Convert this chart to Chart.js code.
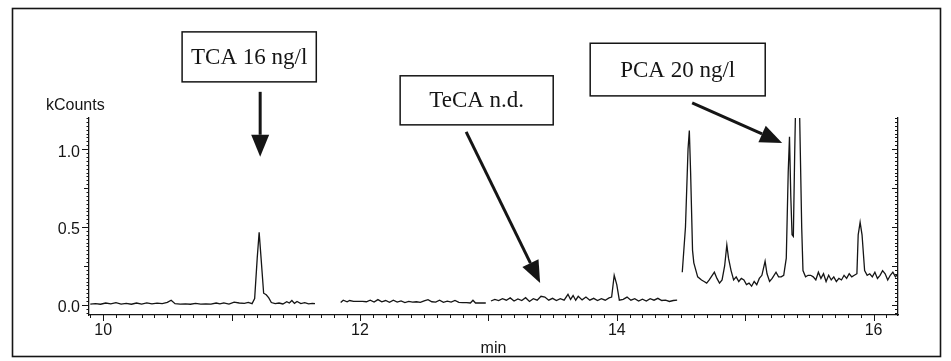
<!DOCTYPE html>
<html lang="en">
<head>
    <meta charset="UTF-8">
    <title>Chromatogram - TCA / TeCA / PCA</title>
    <style>
        html, body { margin: 0; padding: 0; background: #fff; }
        #wrap { position: relative; width: 951px; height: 361px; }
    </style>
</head>
<body>
    <div id="wrap">
        <canvas id="chrom" width="951" height="361"></canvas>
    </div>

    <script src="https://cdn.jsdelivr.net/npm/chart.js"></script>
    <script>
        // retention time (min) and signal (kCounts), one pair of arrays per trace segment
        const times1 = [9.90, 9.94, 9.98, 10.02, 10.06, 10.10, 10.14, 10.18, 10.22, 10.26, 10.30, 10.34, 10.38, 10.42, 10.46, 10.50, 10.53, 10.56, 10.60, 10.64, 10.68, 10.72, 10.76, 10.80, 10.84, 10.88, 10.91, 10.94, 10.98, 11.02, 11.06, 11.10, 11.13, 11.16, 11.18, 11.20, 11.215, 11.23, 11.25, 11.27, 11.29, 11.31, 11.34, 11.37, 11.40, 11.43, 11.45, 11.47, 11.49, 11.51, 11.54, 11.57, 11.60, 11.63, 11.65];
        const counts1 = [0.005, 0.008, 0.004, 0.012, 0.006, 0.014, 0.005, 0.010, 0.004, 0.012, 0.005, 0.013, 0.006, 0.011, 0.008, 0.016, 0.030, 0.008, 0.005, 0.006, 0.004, 0.010, 0.005, 0.006, 0.005, 0.012, 0.006, 0.013, 0.005, 0.018, 0.012, 0.010, 0.016, 0.008, 0.040, 0.300, 0.466, 0.300, 0.075, 0.065, 0.045, 0.015, 0.008, 0.012, 0.006, 0.020, 0.012, 0.028, 0.010, 0.022, 0.008, 0.014, 0.006, 0.010, 0.008];

        const times2 = [11.85, 11.87, 11.90, 11.92, 11.95, 11.98, 12.02, 12.05, 12.08, 12.11, 12.14, 12.17, 12.20, 12.23, 12.26, 12.29, 12.32, 12.35, 12.38, 12.41, 12.44, 12.47, 12.50, 12.53, 12.56, 12.59, 12.62, 12.65, 12.68, 12.71, 12.74, 12.77, 12.80, 12.83, 12.86, 12.88, 12.90, 12.93, 12.96, 12.98];
        const counts2 = [0.015, 0.030, 0.020, 0.028, 0.022, 0.022, 0.022, 0.020, 0.030, 0.018, 0.034, 0.020, 0.028, 0.016, 0.030, 0.018, 0.026, 0.015, 0.022, 0.018, 0.020, 0.016, 0.026, 0.034, 0.020, 0.018, 0.030, 0.016, 0.024, 0.018, 0.028, 0.016, 0.014, 0.015, 0.012, 0.030, 0.012, 0.012, 0.012, 0.012];

        const times3 = [13.02, 13.05, 13.08, 13.11, 13.14, 13.17, 13.20, 13.23, 13.26, 13.29, 13.32, 13.35, 13.38, 13.41, 13.44, 13.47, 13.50, 13.53, 13.56, 13.59, 13.62, 13.64, 13.66, 13.68, 13.70, 13.73, 13.76, 13.79, 13.82, 13.85, 13.88, 13.91, 13.94, 13.96, 13.98, 14.00, 14.02, 14.05, 14.08, 14.11, 14.14, 14.17, 14.20, 14.23, 14.26, 14.29, 14.32, 14.35, 14.38, 14.41, 14.44, 14.47];
        const counts3 = [0.025, 0.035, 0.028, 0.040, 0.030, 0.045, 0.025, 0.038, 0.028, 0.046, 0.022, 0.040, 0.030, 0.055, 0.050, 0.030, 0.042, 0.028, 0.040, 0.030, 0.068, 0.035, 0.060, 0.030, 0.055, 0.032, 0.050, 0.030, 0.042, 0.028, 0.040, 0.030, 0.045, 0.050, 0.190, 0.130, 0.030, 0.035, 0.050, 0.030, 0.040, 0.025, 0.036, 0.025, 0.040, 0.030, 0.042, 0.028, 0.030, 0.022, 0.028, 0.030];

        const times4 = [14.51, 14.535, 14.555, 14.565, 14.575, 14.59, 14.60, 14.63, 14.66, 14.68, 14.70, 14.72, 14.76, 14.78, 14.80, 14.82, 14.84, 14.857, 14.87, 14.89, 14.91, 14.93, 14.95, 14.97, 14.99, 15.01, 15.03, 15.05, 15.07, 15.09, 15.11, 15.13, 15.155, 15.17, 15.19, 15.21, 15.24, 15.26, 15.28, 15.30, 15.32, 15.335, 15.345, 15.355, 15.365, 15.375, 15.385, 15.40, 15.42, 15.44, 15.45, 15.47, 15.49, 15.51, 15.53, 15.55, 15.57, 15.59, 15.61, 15.63, 15.65, 15.67, 15.69, 15.71, 15.73, 15.75, 15.77, 15.79, 15.81, 15.83, 15.85, 15.87, 15.88, 15.895, 15.91, 15.93, 15.95, 15.97, 15.99, 16.01, 16.03, 16.05, 16.07, 16.09, 16.11, 16.13, 16.15, 16.17, 16.19];
        const counts4 = [0.21, 0.50, 1.00, 1.12, 0.85, 0.35, 0.27, 0.18, 0.16, 0.15, 0.14, 0.16, 0.21, 0.17, 0.14, 0.16, 0.25, 0.385, 0.30, 0.22, 0.16, 0.18, 0.15, 0.17, 0.16, 0.13, 0.14, 0.12, 0.15, 0.13, 0.17, 0.19, 0.28, 0.20, 0.15, 0.17, 0.21, 0.18, 0.18, 0.19, 0.30, 0.85, 1.08, 0.70, 0.45, 0.44, 0.95, 1.60, 1.40, 0.50, 0.22, 0.18, 0.19, 0.19, 0.18, 0.16, 0.21, 0.17, 0.20, 0.15, 0.19, 0.16, 0.18, 0.15, 0.17, 0.16, 0.19, 0.17, 0.20, 0.18, 0.19, 0.20, 0.45, 0.53, 0.45, 0.22, 0.19, 0.20, 0.18, 0.21, 0.17, 0.19, 0.22, 0.20, 0.16, 0.19, 0.21, 0.18, 0.20];

        const xTickLabels = [10, 12, 14, 16];
        const yTickLabels = [0.0, 0.5, 1.0];

        // callout boxes and arrows, in axis units (min, kCounts)
        const callouts = [
            { text: 'TCA 16 ng/l', box: [10.615, 1.753, 11.66, 1.432], from: [11.223, 1.368], to: [11.223, 0.951] },
            { text: 'TeCA n.d.', box: [12.313, 1.471, 13.505, 1.156], from: [12.827, 1.111], to: [13.403, 0.141] },
            { text: 'PCA 20 ng/l', box: [13.793, 1.680, 15.156, 1.342], from: [14.587, 1.297], to: [15.288, 1.040] }
        ];

        const ink = '#151515';

        const pairUp = (ts, cs) => ts.map((t, i) => ({ x: t, y: cs[i] }));
        const trace = (ts, cs) => ({
            data: pairUp(ts, cs),
            borderColor: ink,
            borderWidth: 1.3,
            pointRadius: 0,
            tension: 0,
            yAxisID: 'y'
        });

        // hand drawn tick marks, frame, callouts
        const decorations = {
            id: 'decorations',
            afterDraw(chart) {
                const { ctx, scales: { x, y, y2 } } = chart;
                ctx.save();
                ctx.strokeStyle = ink;
                ctx.lineWidth = 1;
                const seg = (x1, y1, x2, y2_) => {
                    ctx.beginPath(); ctx.moveTo(x1, y1); ctx.lineTo(x2, y2_); ctx.stroke();
                };

                // x ticks: minor every 0.1 min, major every minute
                for (let i = Math.ceil(x.min * 10); i <= Math.floor(x.max * 10); i++) {
                    const px = Math.round(x.getPixelForValue(i / 10)) + 0.5;
                    seg(px, x.top, px, x.top + (i % 10 === 0 ? 6 : 3));
                }
                // left y ticks (outside), right y ticks (inside)
                for (let i = Math.ceil(y.min * 40); i <= Math.floor(y.max * 40); i++) {
                    const py = Math.round(y.getPixelForValue(i / 40)) + 0.5;
                    const l = i % 20 === 0 ? 7 : (i % 10 === 0 ? 5 : 2.5);
                    seg(y.right - l, py, y.right, py);
                    const r = i % 10 === 0 ? 6 : 3;
                    seg(y2.left - r, py, y2.left, py);
                }

                // outer frame
                ctx.lineWidth = 1.6;
                ctx.strokeRect(12.5, 8.5, 928, 348);

                // y unit label
                ctx.fillStyle = ink;
                ctx.font = '16px "Liberation Sans", Arial, sans-serif';
                ctx.textAlign = 'left';
                ctx.textBaseline = 'alphabetic';
                ctx.fillText('kCounts', 46, 110);

                // callouts
                ctx.font = '23px "Liberation Serif", "Times New Roman", serif';
                ctx.textAlign = 'center';
                ctx.textBaseline = 'middle';
                callouts.forEach(c => {
                    const bx1 = x.getPixelForValue(c.box[0]), by1 = y.getPixelForValue(c.box[1]);
                    const bx2 = x.getPixelForValue(c.box[2]), by2 = y.getPixelForValue(c.box[3]);
                    ctx.fillStyle = '#fff';
                    ctx.fillRect(bx1, by1, bx2 - bx1, by2 - by1);
                    ctx.lineWidth = 1.5;
                    ctx.strokeRect(bx1, by1, bx2 - bx1, by2 - by1);
                    ctx.fillStyle = ink;
                    ctx.fillText(c.text, (bx1 + bx2) / 2, (by1 + by2) / 2 + 1);

                    const fx = x.getPixelForValue(c.from[0]), fy = y.getPixelForValue(c.from[1]);
                    const tx = x.getPixelForValue(c.to[0]), ty = y.getPixelForValue(c.to[1]);
                    const ang = Math.atan2(ty - fy, tx - fx);
                    const head = 22, half = 9;
                    const hx = tx - head * Math.cos(ang), hy = ty - head * Math.sin(ang);
                    ctx.lineWidth = 3;
                    seg(fx, fy, hx, hy);
                    ctx.beginPath();
                    ctx.moveTo(tx, ty);
                    ctx.lineTo(hx + half * Math.sin(ang), hy - half * Math.cos(ang));
                    ctx.lineTo(hx - half * Math.sin(ang), hy + half * Math.cos(ang));
                    ctx.closePath();
                    ctx.fill();
                });
                ctx.restore();
            }
        };

        const axisFont = { family: '"Liberation Sans", Arial, sans-serif', size: 16 };

        new Chart(document.getElementById('chrom'), {
            type: 'line',
            data: {
                datasets: [
                    trace(times1, counts1),
                    trace(times2, counts2),
                    trace(times3, counts3),
                    trace(times4, counts4)
                ]
            },
            options: {
                responsive: false,
                animation: false,
                layout: { padding: { top: 118, left: 0, right: 53, bottom: 0 } },
                plugins: {
                    legend: { display: false },
                    tooltip: { enabled: false }
                },
                scales: {
                    x: {
                        type: 'linear',
                        min: 9.89,
                        max: 16.19,
                        afterFit: s => { s.height = 46; },
                        afterBuildTicks: s => { s.ticks = xTickLabels.map(v => ({ value: v })); },
                        grid: { drawOnChartArea: false, drawTicks: false },
                        border: { color: ink, width: 1.3 },
                        ticks: { color: ink, font: axisFont, padding: 6, maxRotation: 0, callback: v => String(v) },
                        title: { display: true, text: 'min', color: ink, font: axisFont, padding: { top: 0, bottom: 3 } }
                    },
                    y: {
                        min: -0.065,
                        max: 1.2,
                        afterFit: s => { s.width = 89; },
                        afterBuildTicks: s => { s.ticks = yTickLabels.map(v => ({ value: v })); },
                        grid: { drawOnChartArea: false, drawTicks: false },
                        border: { color: ink, width: 1.3 },
                        ticks: { color: ink, font: axisFont, padding: 9, labelOffset: 3, callback: v => v.toFixed(1) }
                    },
                    y2: {
                        position: 'right',
                        min: -0.065,
                        max: 1.2,
                        afterFit: s => { s.width = 0; },
                        grid: { drawOnChartArea: false, drawTicks: false },
                        border: { color: ink, width: 1.3 },
                        ticks: { display: false }
                    }
                }
            },
            plugins: [decorations]
        });
    </script>
</body>
</html>
